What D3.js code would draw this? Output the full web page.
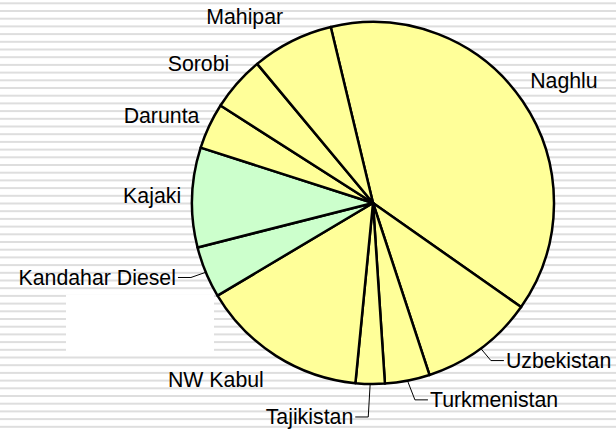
<!DOCTYPE html>
<html>
<head>
<meta charset="utf-8">
<script src="https://cdn.jsdelivr.net/npm/d3@7"></script>
<style>
  body { margin: 0; background: #fff; }
  .pie text { font-family: "Liberation Sans", Arial, sans-serif; font-size: 21.3px; fill: #000; }
</style>
</head>
<body>
<div class="pie"></div>
<script>
// share of supply, percent
var sources = ["Naghlu", "Uzbekistan", "Turkmenistan", "Tajikistan", "NW Kabul",
               "Kandahar Diesel", "Kajaki", "Darunta", "Sorobi", "Mahipar"];
var shares = [38.5, 10.2, 4.0, 2.6, 14.9, 4.6, 8.9, 4.1, 4.9, 7.3];
var greenSources = ["Kandahar Diesel", "Kajaki"];

// labels were dragged by hand in the original, so nudge them off the default spot
var labelNudge = {
  "Naghlu": [4, 5],
  "Uzbekistan": [51, -24],
  "Turkmenistan": [78, -25],
  "Tajikistan": [-60, -12],
  "NW Kabul": [-36, -14],
  "Kandahar Diesel": [-67, -12],
  "Kajaki": [5, 0],
  "Darunta": [-7, 9],
  "Sorobi": [-5, 10],
  "Mahipar": [-27, 16]
};
var withLeader = ["Uzbekistan", "Turkmenistan", "Tajikistan", "Kandahar Diesel"];

drawChart();

function drawChart() {
  var svg_width = 616;
  var svg_height = 430;
  var svg = d3.select(".pie").append("svg").attr("width", svg_width).attr("height", svg_height);

  // striped backdrop
  svg.selectAll(".stripe")
    .data(d3.range(3.3 - 1, svg_height, 7.7))
    .enter().append("rect")
      .attr("class", "stripe")
      .attr("x", 0).attr("width", svg_width)
      .attr("y", function(d) { return d; })
      .attr("height", 2)
      .attr("fill", "#dedede");

  // blank box left over from the legend
  svg.append("rect")
    .attr("x", 66).attr("y", 295).attr("width", 148).attr("height", 60)
    .attr("fill", "#fff");

  var cx = 373, cy = 203, radius = 181;
  var g = svg.append("g").attr("transform", "translate(" + cx + "," + cy + ")");

  var data = sources.map(function(s, i) { return {name: s, value: shares[i]}; });

  var start = 346.5 * Math.PI / 180;
  var pie = d3.pie()
    .sort(null)
    .startAngle(start)
    .endAngle(start + 2 * Math.PI)
    .value(function(d) { return d.value; });

  var path = d3.arc().outerRadius(radius).innerRadius(0);
  var label = d3.arc().outerRadius(226).innerRadius(226);
  var rim = d3.arc().outerRadius(radius).innerRadius(radius);

  var arcs = pie(data);

  g.selectAll(".slice")
    .data(arcs)
    .enter().append("path")
      .attr("class", "slice")
      .attr("d", path)
      .attr("fill", function(d) { return greenSources.indexOf(d.data.name) >= 0 ? "#ccffcc" : "#ffff99"; })
      .attr("stroke", "#000")
      .attr("stroke-width", 2.5)
      .attr("stroke-linejoin", "round");

  var texts = g.selectAll(".lbl")
    .data(arcs)
    .enter().append("text")
      .attr("class", "lbl")
      .attr("x", function(d) { return label.centroid(d)[0] + labelNudge[d.data.name][0]; })
      .attr("y", function(d) { return label.centroid(d)[1] + labelNudge[d.data.name][1]; })
      .attr("dy", "0.35em")
      .style("text-anchor", "middle")
      .text(function(d) { return d.data.name; });

  // leader lines: rim -> elbow -> text side
  texts.each(function(d) {
    if (withLeader.indexOf(d.data.name) < 0) return;
    var x = +this.getAttribute("x"), y = +this.getAttribute("y");
    var w = this.getComputedTextLength();
    var p = rim.centroid(d);
    var side = x > p[0] ? -1 : 1;
    var tx = x + side * (w / 2 + 2);
    var pts = [p, [tx + side * 13, y], [tx, y]];
    g.append("path")
      .attr("d", d3.line()(pts))
      .attr("fill", "none")
      .attr("stroke", "#000")
      .attr("stroke-width", 1);
  });
}
</script>
</body>
</html>
